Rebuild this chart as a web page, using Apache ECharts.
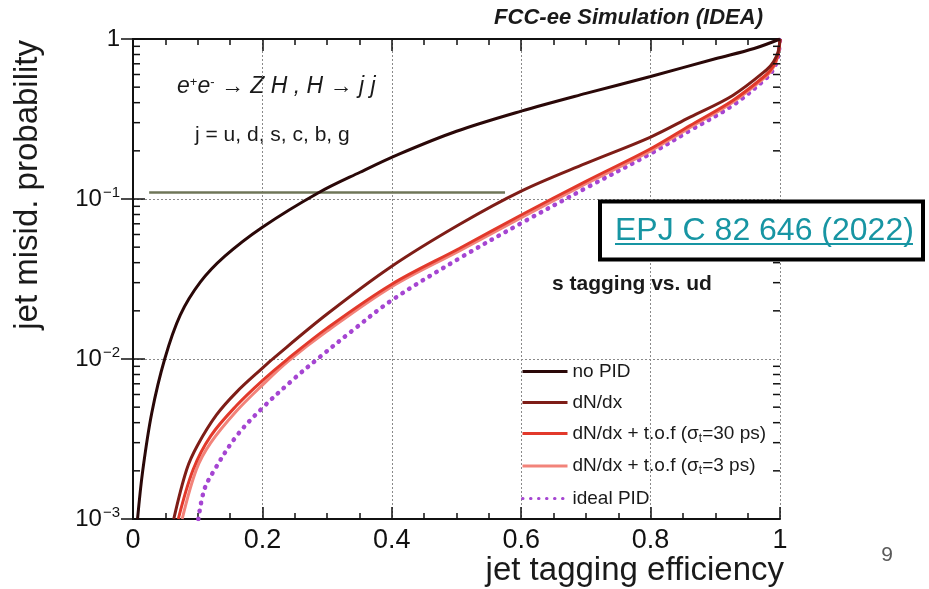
<!DOCTYPE html>
<html>
<head>
<meta charset="utf-8">
<script src="https://cdn.jsdelivr.net/npm/echarts@6/dist/echarts.min.js"></script>
<style>
  html, body { margin: 0; padding: 0; background: #ffffff; }
  #chart { width: 929px; height: 589px; }
</style>
</head>
<body>
<div id="chart"></div>
<script>
// Tick labels
const xTickLabels = ['0', '0.2', '0.4', '0.6', '0.8', '1'];
const yTickExponents = [-3, -2, -1, 0];
const yMinorTicks = [
  0.002, 0.003, 0.004, 0.005, 0.006, 0.007, 0.008, 0.009,
  0.02, 0.03, 0.04, 0.05, 0.06, 0.07, 0.08, 0.09,
  0.2, 0.3, 0.4, 0.5, 0.6, 0.7, 0.8, 0.9
];

// Series names
const seriesNames = [
  'no PID',
  'dN/dx',
  'dN/dx + t.o.f (σt=30 ps)',
  'dN/dx + t.o.f (σt=3 ps)',
  'ideal PID'
];

// no PID: efficiency vs misidentification probability
const effNoPID = [0.007, 0.015, 0.029, 0.049, 0.073, 0.104, 0.142, 0.2, 0.286, 0.351, 0.413, 0.5, 0.6, 0.7, 0.8, 0.9, 0.96, 1.0];
const misNoPID = [0.001, 0.002, 0.0046, 0.01, 0.0188, 0.0302, 0.0439, 0.0666, 0.109, 0.147, 0.192, 0.265, 0.354, 0.457, 0.583, 0.752, 0.872, 1.0];

// dN/dx
const effDNDX = [0.063, 0.083, 0.1, 0.129, 0.16, 0.2, 0.217, 0.3, 0.4, 0.505, 0.6, 0.7, 0.8, 0.861, 0.927, 0.979, 0.99, 0.997, 1.0];
const misDNDX = [0.001, 0.00204, 0.0029, 0.00447, 0.00621, 0.00877, 0.0101, 0.0191, 0.038, 0.0695, 0.112, 0.167, 0.244, 0.325, 0.444, 0.64, 0.72, 0.83, 1.0];

// dN/dx + t.o.f, 30 ps
const effTof30 = [0.070, 0.093, 0.12, 0.16, 0.2, 0.238, 0.3, 0.4, 0.505, 0.6, 0.7, 0.8, 0.861, 0.927, 0.979, 0.99, 0.997, 1.0];
const misTof30 = [0.001, 0.00204, 0.0033, 0.00512, 0.00733, 0.00992, 0.0156, 0.02935, 0.0492, 0.0794, 0.129, 0.206, 0.288, 0.413, 0.6, 0.68, 0.8, 1.0];

// dN/dx + t.o.f, 3 ps
const effTof3 = [0.076, 0.098, 0.12, 0.16, 0.2, 0.24, 0.3, 0.4, 0.505, 0.6, 0.7, 0.8, 0.861, 0.927, 0.979, 0.99, 0.997, 1.0];
const misTof3 = [0.001, 0.00204, 0.00299, 0.00473, 0.00687, 0.0097, 0.01493, 0.0283, 0.0475, 0.0764, 0.1245, 0.2, 0.28, 0.403, 0.586, 0.667, 0.794, 1.0];

// ideal PID
const effIdeal = [0.101, 0.11, 0.124, 0.16, 0.2, 0.25, 0.285, 0.34, 0.4, 0.505, 0.6, 0.7, 0.8, 0.861, 0.927, 0.979, 0.99, 0.997, 1.0];
const misIdeal = [0.001, 0.00152, 0.00197, 0.0033, 0.00494, 0.0076, 0.01, 0.01515, 0.0233, 0.0427, 0.0706, 0.117, 0.192, 0.268, 0.385, 0.57, 0.65, 0.78, 1.0];

// horizontal reference line
const refLineEff = [0.025, 0.575];
const refLineMis = [0.11, 0.11];

const zip = (xs, ys) => xs.map((x, i) => [x, ys[i]]);

const FONT = "'Liberation Sans', Arial, Helvetica, sans-serif";

const chart = echarts.init(document.getElementById('chart'), null, { renderer: 'canvas' });

function curve(name, xs, ys, color, extra) {
  return Object.assign({
    name: name,
    type: 'line',
    data: zip(xs, ys),
    symbol: 'none',
    smooth: 0.35,
    clip: true,
    z: 3,
    lineStyle: { color: color, width: 3 },
    itemStyle: { color: color }
  }, extra || {});
}

const gridBox = { left: 133, top: 39, width: 647, height: 480 };

const xAxisCommon = {
  type: 'value',
  min: 0,
  max: 1,
  interval: 0.2,
  axisLine: { show: true, lineStyle: { color: '#111', width: 2 } },
  axisTick: { show: true, inside: true, length: 12, lineStyle: { color: '#111', width: 1.5 } },
  minorTick: { show: true, splitNumber: 4, length: 6, lineStyle: { color: '#111', width: 1.5 } }
};

const option = {
  backgroundColor: '#ffffff',
  animation: false,
  grid: gridBox,
  legend: {
    data: seriesNames,
    orient: 'vertical',
    left: 516,
    top: 357,
    itemWidth: 45,
    itemHeight: 14,
    itemGap: 12,
    selectedMode: false,
    itemStyle: { opacity: 0 },
    lineStyle: { width: 3 },
    textStyle: {
      fontFamily: FONT,
      fontSize: 19,
      color: '#1a1a1a',
      rich: {
        n: { fontFamily: FONT, fontSize: 19, color: '#1a1a1a' },
        sub: { fontFamily: FONT, fontSize: 12, color: '#1a1a1a', verticalAlign: 'top', padding: [10, 0, 0, 0] }
      }
    },
    formatter: function (name) {
      const m = name.match(/^(.*\(σ)t(=.*)$/);
      if (m) return '{n|' + m[1] + '}{sub|t}{n|' + m[2] + '}';
      return '{n|' + name + '}';
    }
  },
  xAxis: [
    Object.assign({}, xAxisCommon, {
      position: 'bottom',
      axisLabel: {
        show: true,
        margin: 8,
        fontFamily: FONT,
        fontSize: 27,
        color: '#111',
        formatter: function (v) { return xTickLabels[Math.round(v / 0.2)]; }
      },
      splitLine: { show: true, lineStyle: { color: '#8a8a8a', width: 1, type: [2, 2] } }
    }),
    Object.assign({}, xAxisCommon, {
      position: 'top',
      axisLabel: { show: false },
      splitLine: { show: false }
    })
  ],
  yAxis: [
    {
      type: 'log',
      logBase: 10,
      min: 0.001,
      max: 1,
      position: 'left',
      axisLine: { show: true, lineStyle: { color: '#111', width: 2 } },
      axisTick: { show: true, inside: true, length: 12, lineStyle: { color: '#111', width: 1.5 } },
      axisLabel: {
        show: true,
        margin: 13,
        color: '#111',
        formatter: function (v) {
          const e = Math.round(Math.log10(v));
          if (yTickExponents.indexOf(e) < 0) return '';
          if (e === 0) return '{b|1}';
          return '{b|10}{s|\u2212' + (-e) + '}';
        },
        rich: {
          b: { fontFamily: FONT, fontSize: 24, color: '#111' },
          s: { fontFamily: FONT, fontSize: 15, color: '#111', verticalAlign: 'bottom', padding: [0, 0, 13, 1] }
        }
      },
      splitLine: { show: true, lineStyle: { color: '#8a8a8a', width: 1, type: [2, 2] } }
    },
    {
      type: 'log',
      logBase: 10,
      min: 0.001,
      max: 1,
      position: 'right',
      axisLine: { show: true, lineStyle: { color: '#111', width: 2 } },
      axisTick: { show: true, inside: true, length: 12, lineStyle: { color: '#111', width: 1.5 } },
      axisLabel: { show: false },
      splitLine: { show: false }
    }
  ],
  series: [
    {
      name: 'minor-ticks',
      type: 'custom',
      coordinateSystem: 'cartesian2d',
      silent: true,
      z: 5,
      encode: { x: 0, y: 1 },
      data: yMinorTicks.map(v => [0, v]),
      renderItem: function (params, api) {
        const v = api.value(1);
        const l = api.coord([0, v]);
        const r = api.coord([1, v]);
        const st = { stroke: '#111', lineWidth: 1.5 };
        return {
          type: 'group',
          children: [
            { type: 'line', shape: { x1: l[0], y1: l[1], x2: l[0] + 7, y2: l[1] }, style: st },
            { type: 'line', shape: { x1: r[0] - 7, y1: r[1], x2: r[0], y2: r[1] }, style: st }
          ]
        };
      }
    },
    {
      name: 'reference',
      type: 'line',
      data: zip(refLineEff, refLineMis),
      symbol: 'none',
      silent: true,
      z: 2,
      lineStyle: { color: '#6f7658', width: 2.5 }
    },
    curve(seriesNames[4], effIdeal, misIdeal, '#a545d2', {
      lineStyle: { color: '#a545d2', width: 4.5, type: [0.5, 7.5], cap: 'round' }
    }),
    curve(seriesNames[3], effTof3, misTof3, '#f2837a'),
    curve(seriesNames[2], effTof30, misTof30, '#e2392b'),
    curve(seriesNames[1], effDNDX, misDNDX, '#7e1d17'),
    curve(seriesNames[0], effNoPID, misNoPID, '#2a0808')
  ],
  graphic: [
    {
      type: 'text', x: 763, y: 18,
      style: {
        text: 'FCC-ee Simulation (IDEA)',
        font: "italic bold 22px " + FONT,
        fill: '#1a1a1a',
        textAlign: 'right',
        textVerticalAlign: 'middle'
      }
    },
    {
      type: 'text', x: 177, y: 87,
      style: {
        text: '{i|e}{sp|+}{i|e}{sp|-}{a| \u2192 }{i|Z H , H}{a| \u2192 }{i|j j}',
        textVerticalAlign: 'middle',
        rich: {
          i: { font: "italic 23px " + FONT, fill: '#1a1a1a' },
          a: { font: "23px " + FONT, fill: '#1a1a1a' },
          sp: { font: "13px " + FONT, fill: '#1a1a1a', verticalAlign: 'bottom', padding: [0, 0, 10, 0] }
        }
      }
    },
    {
      type: 'text', x: 195, y: 135,
      style: {
        text: 'j = u, d, s, c, b, g',
        font: "21px " + FONT,
        fill: '#1a1a1a',
        textVerticalAlign: 'middle'
      }
    },
    {
      type: 'text', x: 552, y: 284,
      style: {
        text: 's tagging vs. ud',
        font: "bold 21px " + FONT,
        fill: '#1a1a1a',
        textVerticalAlign: 'middle'
      }
    },
    {
      type: 'rect', z: 100,
      shape: { x: 600, y: 201.5, width: 323, height: 58 },
      style: { fill: '#ffffff', stroke: '#000000', lineWidth: 4 }
    },
    {
      type: 'text', z: 101, x: 615, y: 231,
      style: {
        text: 'EPJ C 82 646 (2022)',
        font: "32px " + FONT,
        fill: '#1795a3',
        textVerticalAlign: 'middle'
      }
    },
    {
      type: 'line', z: 101,
      shape: { x1: 615, y1: 244, x2: 913, y2: 244 },
      style: { stroke: '#1795a3', lineWidth: 2 }
    },
    {
      type: 'text', x: 784, y: 571,
      style: {
        text: 'jet tagging efficiency',
        font: "33px " + FONT,
        fill: '#1a1a1a',
        textAlign: 'right',
        textVerticalAlign: 'middle'
      }
    },
    {
      type: 'text', x: 28, y: 40, rotation: Math.PI / 2,
      style: {
        text: 'jet misid. probability',
        font: "33px " + FONT,
        fill: '#1a1a1a',
        textAlign: 'right',
        textVerticalAlign: 'middle'
      }
    },
    {
      type: 'text', x: 887, y: 555,
      style: {
        text: '9',
        font: "21px " + FONT,
        fill: '#595959',
        textAlign: 'center',
        textVerticalAlign: 'middle'
      }
    }
  ]
};

chart.setOption(option);
</script>
</body>
</html>
